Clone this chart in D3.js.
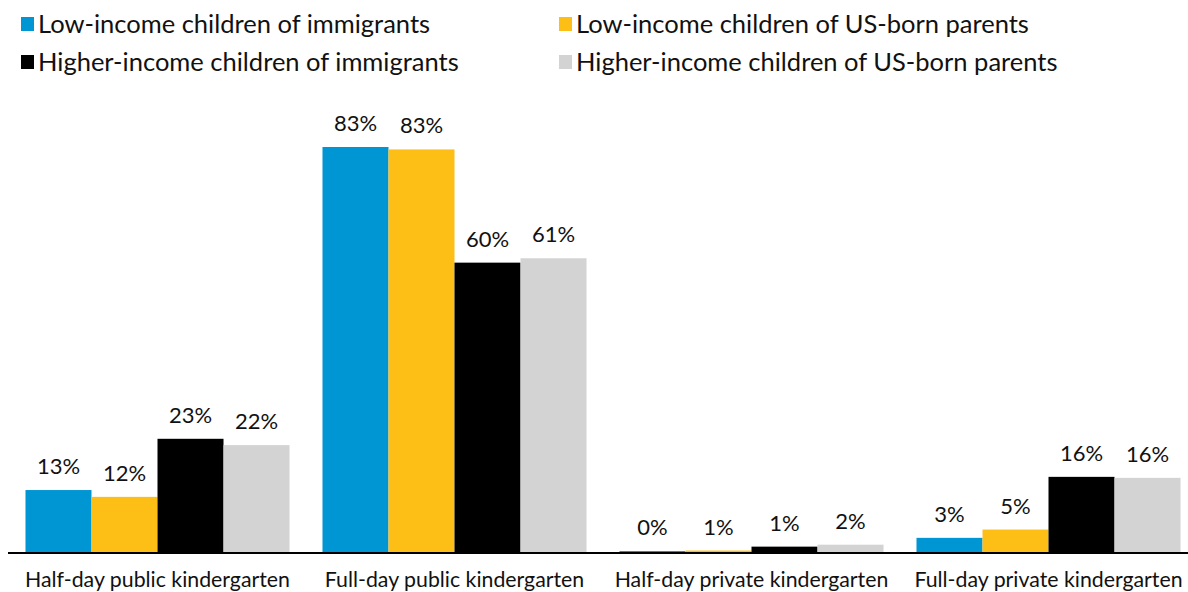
<!DOCTYPE html>
<html>
<head>
<meta charset="utf-8">
<script src="https://cdn.jsdelivr.net/npm/d3@7"></script>
<style>
  body { margin: 0; background: #fff; }
  svg { display: block; font-family: Lato, "Open Sans", sans-serif; }
</style>
</head>
<body>
<svg id="chart"></svg>
<script>
var categories = ["Half-day public kindergarten", "Full-day public kindergarten", "Half-day private kindergarten", "Full-day private kindergarten"]
var seriesNames = ["Low-income children of immigrants", "Low-income children of US-born parents", "Higher-income children of immigrants", "Higher-income children of US-born parents"]
var colors = ["#0096d4", "#fdbe16", "#000000", "#d3d3d3"]

// percent values, one array per series
var lowImm = [12.7, 83.0, 0.2, 2.9]
var lowUs = [11.3, 82.5, 0.3, 4.6]
var highImm = [23.2, 59.3, 1.1, 15.4]
var highUs = [21.9, 60.2, 1.5, 15.2]
var labels = [["13%", "83%", "0%", "3%"], ["12%", "83%", "1%", "5%"], ["23%", "60%", "1%", "16%"], ["22%", "61%", "2%", "16%"]]

var series = [lowImm, lowUs, highImm, highUs]

var dimensions = {
    width: 1188,
    height: 592,
    margin: { top: 100, bottom: 40, left: 8, right: 0 }
}
var baseY = 552

var svg = d3.select("#chart")
            .attr("width", dimensions.width)
            .attr("height", dimensions.height)

var xScale = d3.scaleBand()
               .domain(categories)
               .range([9, 1197])
               .paddingInner(0.111)
               .paddingOuter(0.0555)

var xSub = d3.scaleBand()
             .domain(d3.range(series.length))
             .range([0, xScale.bandwidth()])

var yScale = d3.scaleLinear()
               .domain([0, 83])
               .range([baseY, 147])

var rows = []
series.forEach(function(vals, s) {
    vals.forEach(function(v, c) {
        rows.push({ s: s, c: c, value: v, label: labels[s][c] })
    })
})

svg.append("g")
   .selectAll("rect")
   .data(rows)
   .enter()
   .append("rect")
   .attr("x", d => xScale(categories[d.c]) + xSub(d.s))
   .attr("y", d => yScale(d.value))
   .attr("width", xSub.bandwidth())
   .attr("height", d => baseY - yScale(d.value))
   .attr("fill", d => colors[d.s])

svg.append("g")
   .selectAll("text")
   .data(rows)
   .enter()
   .append("text")
   .attr("x", d => xScale(categories[d.c]) + xSub(d.s) + xSub.bandwidth() / 2)
   .attr("y", d => yScale(d.value) - 16)
   .attr("text-anchor", "middle")
   .style("font-size", "22px")
   .style("fill", "#111")
   .text(d => d.label)

// baseline
svg.append("line")
   .attr("x1", 8)
   .attr("x2", dimensions.width)
   .attr("y1", baseY + 1)
   .attr("y2", baseY + 1)
   .attr("stroke", "#000")
   .attr("stroke-width", 2)

var xAxis = svg.append("g")
               .attr("transform", `translate(0, ${baseY + 2})`)
               .call(d3.axisBottom(xScale).tickSize(0).tickPadding(18))
xAxis.select(".domain").remove()
xAxis.selectAll("text")
     .style("font-family", "Lato, sans-serif")
     .style("font-size", "21.3px")
     .style("fill", "#111")

// legend
var legend = svg.append("g")
                .selectAll("g")
                .data(seriesNames)
                .enter()
                .append("g")
                .attr("transform", (d, i) => `translate(${i % 2 == 0 ? 21 : 559}, ${i < 2 ? 17 : 55})`)

legend.append("rect")
      .attr("width", 13)
      .attr("height", 14)
      .attr("fill", (d, i) => colors[i])

legend.append("text")
      .attr("x", 17)
      .attr("y", 16)
      .style("font-size", "25.5px")
      .style("fill", "#111")
      .text(d => d)
</script>
</body>
</html>
